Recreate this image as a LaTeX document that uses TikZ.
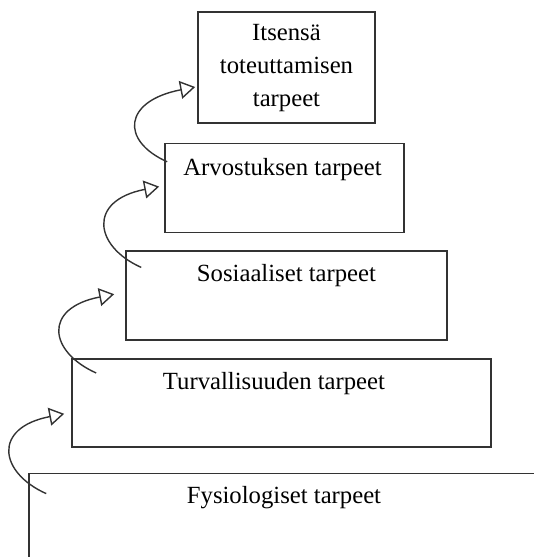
\documentclass[tikz,border=0pt]{standalone}
\usepackage{fontspec}
\setmainfont{Liberation Serif}
\usetikzlibrary{positioning,arrows.meta}

\tikzset{
    needbox/.style={draw=black!80, line width=1.6pt, rectangle, inner sep=0pt},
    needtext/.style={inner sep=0pt, align=center,
        font=\fontsize{24.7}{33}\selectfont},
    climb/.style={draw=black!80, line width=1.4pt,
        -{Triangle[open, length=15pt, width=18pt]}},
}

\begin{document}
\begin{tikzpicture}[x=1pt, y=-1pt]
        \useasboundingbox (0,0) rectangle (534,557);
        \clip (0,0) rectangle (534,557);
        %% the steps, top to bottom
        \node[needbox, minimum width=177pt, minimum height=111pt] (b1) at (286.5,67.5) {};
        \node[needbox, minimum width=239pt, minimum height=89pt, below=19pt of b1, xshift=-2pt] (b2) {};
        \node[needbox, minimum width=321pt, minimum height=89pt, below=17pt of b2, xshift=2pt] (b3) {};
        \node[needbox, minimum width=419pt, minimum height=88pt, below=17pt of b3, xshift=-5pt] (b4) {};
        \node[needbox, minimum width=571pt, minimum height=120pt, below=25pt of b4, xshift=33pt] (b5) {};
        %% texts
        \node[needtext, below=13pt of b1.north] (t1) {Itsensä\\toteuttamisen\\tarpeet};
        \node[needtext, below=15pt of b2.north, xshift=-2pt] (t2) {Arvostuksen tarpeet};
        \node[needtext, below=14pt of b3.north] (t3) {Sosiaaliset tarpeet};
        \node[needtext, below=14pt of b4.north, xshift=-7.5pt] (t4) {Turvallisuuden tarpeet};
        \node[needtext, below=14pt of b5.north, xshift=-30.5pt] (t5) {Fysiologiset tarpeet};
        %% arrows up the steps
        \coordinate (s1) at ([xshift=18pt, yshift=-21pt]b5.north west);
        \coordinate (e1) at ([xshift=-7pt, yshift=-11pt]b4.west);
        \coordinate (s2) at ([xshift=25pt, yshift=-15pt]b4.north west);
        \coordinate (e2) at ([xshift=-11pt, yshift=1.5pt]b3.west);
        \coordinate (s3) at ([xshift=16pt, yshift=-17pt]b3.north west);
        \coordinate (e3) at ([xshift=-5pt, yshift=1.5pt]b2.west);
        \coordinate (s4) at ([xshift=3pt, yshift=-19pt]b2.north west);
        \coordinate (e4) at ([xshift=-2pt, yshift=-19.5pt]b1.west);
        \foreach \i in {1,...,4}
            \draw[climb] (s\i) .. controls +(-47,-21) and +(-72,14) .. (e\i);
    \end{tikzpicture}
\end{document}
